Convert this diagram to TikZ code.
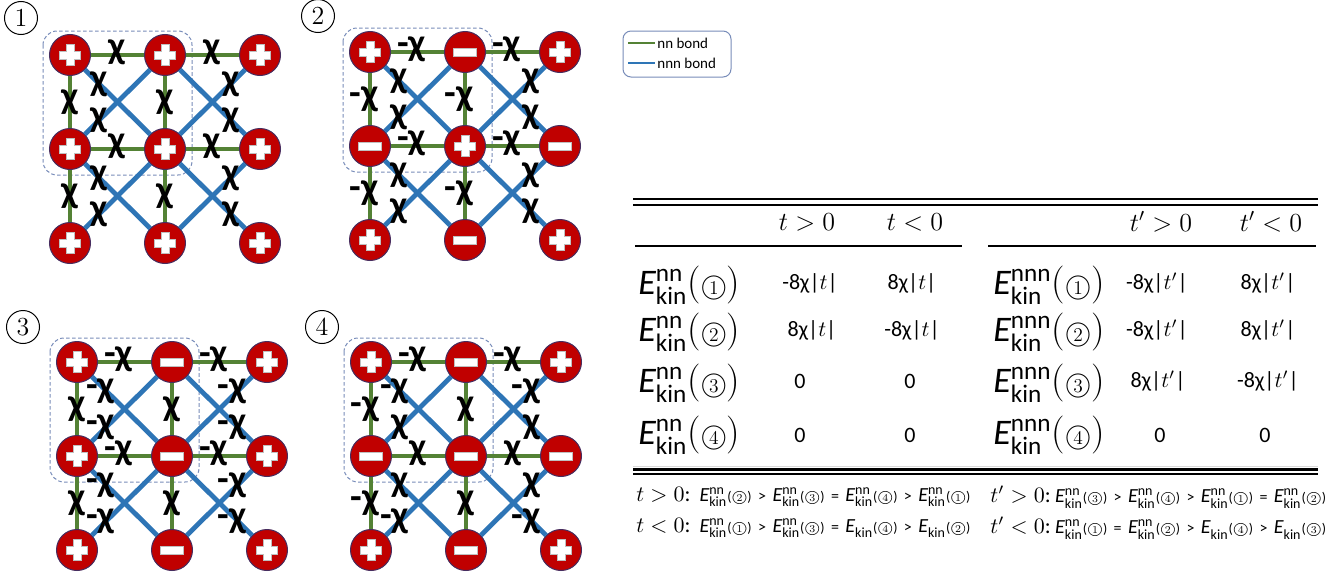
\RequirePackage{fix-cm}
\documentclass[tikz,border=0pt]{standalone}
\usepackage{amsmath}
\usepackage{fontspec}
\newfontfamily\cf{Carlito}
\usetikzlibrary{calc}
\definecolor{nodered}{RGB}{192,0,0}
\definecolor{nodeedge}{RGB}{70,45,95}
\definecolor{shadowc}{RGB}{60,25,60}
\definecolor{nnG}{RGB}{84,130,53}
\definecolor{nnnB}{RGB}{46,117,182}
\definecolor{boxc}{RGB}{120,140,185}
\def\plusshape{(-10.5,-3.8) -- (-3.8,-3.8) -- (-3.8,-10.5) -- (3.8,-10.5) -- (3.8,-3.8) -- (10.5,-3.8) -- (10.5,3.8) -- (3.8,3.8) -- (3.8,10.5) -- (-3.8,10.5) -- (-3.8,3.8) -- (-10.5,3.8) -- cycle}
\def\minusshape{(-11.5,-4) rectangle (11.5,4)}
\newcommand\cnum[1]{{\rmfamily\upshape\ooalign{\hfil$\bigcirc$\hfil\crcr\hfil\scalebox{0.75}{#1}\hfil}}}
\newcommand\chilab[1]{\ifnum#1>0 χ\else\llap{-}χ\fi}
\newcommand\Ebig[2]{{\itshape E}$^{\text{#1}}_{\text{kin}}${\rmfamily\fontsize{19}{19}\selectfont(}{\fontsize{13}{13}\selectfont\cnum{#2}}{\rmfamily\fontsize{19}{19}\selectfont)}}
\newcommand\Es[2]{{\itshape E}$^{\text{#1}}_{\text{kin}}${\fontsize{7}{7}\selectfont(\cnum{#2})}}
\newcommand\rel[1]{\hspace{3.2pt}{\fontsize{8}{8}\selectfont#1}\hspace{3.2pt}}
\newcommand\panel[4]{%
  \def\sarr{#4}%
  \foreach \rr in {0,1,2}{\foreach \cc in {0,1,2}{%
    \pgfmathtruncatemacro\kk{3*\rr+\cc}%
    \pgfmathtruncatemacro\sv{\sarr[\kk]}%
    \ifnum\sv>0 \node[psite] (#1\cc\rr) at ({#2+95*\cc},{#3+94*\rr}) {};%
    \else \node[msite] (#1\cc\rr) at ({#2+95*\cc},{#3+94*\rr}) {};\fi
  }}%
  \draw[dbox] ($(#100)+(-27,-24)$) rectangle ($(#111)+(27,26)$);
  \foreach \rr in {0,1}{\foreach \cc in {0,1}{%
    \pgfmathtruncatemacro\ka{3*\rr+\cc}%
    \pgfmathtruncatemacro\bp{\sarr[\ka]*\sarr[\ka+1]}%
    \pgfmathtruncatemacro\cn{\cc+1}%
    \draw[nn] (#1\cc\rr) -- node[lbl,yshift=1.5pt]{\chilab{\bp}} (#1\cn\rr);
  }}%
  \foreach \cc in {0,1}{\foreach \rr in {0,1}{%
    \pgfmathtruncatemacro\ka{3*\rr+\cc}%
    \pgfmathtruncatemacro\bp{\sarr[\ka]*\sarr[\ka+3]}%
    \pgfmathtruncatemacro\rn{\rr+1}%
    \draw[nn] (#1\cc\rr) -- node[lbl]{\chilab{\bp}} (#1\cc\rn);
  }}%
  \foreach \rr in {0,1}{\foreach \cc in {0,1}{%
    \pgfmathtruncatemacro\ka{3*\rr+\cc}%
    \pgfmathtruncatemacro\bp{\sarr[\ka]*\sarr[\ka+4]}%
    \pgfmathtruncatemacro\bq{\sarr[\ka+1]*\sarr[\ka+3]}%
    \pgfmathtruncatemacro\cn{\cc+1}%
    \pgfmathtruncatemacro\rn{\rr+1}%
    \pgfmathsetmacro\pa{\cc==0 ? 0.22 : 0.78}%
    \pgfmathsetmacro\pb{\cc==0 ? 0.78 : 0.22}%
    \draw[nnn] (#1\cc\rr) -- node[lbl,pos=\pa]{\chilab{\bp}} (#1\cn\rn);
    \draw[nnn] (#1\cn\rr) -- node[lbl,pos=\pb]{\chilab{\bq}} (#1\cc\rn);
  }}%
}
\begin{document}
\begin{tikzpicture}[x=0.5pt,y=-0.5pt,
  site/.style={circle, fill=nodered, draw=nodeedge, line width=0.5pt, minimum size=20.5pt, inner sep=0pt},
  psite/.style={site, path picture={\begin{scope}[shift={(path picture bounding box.center)}]
        \fill[shadowc, shift={(1.6,1.6)}] \plusshape;
        \fill[white, draw=gray!50, line width=0.2pt] \plusshape;
      \end{scope}}},
  msite/.style={site, path picture={\begin{scope}[shift={(path picture bounding box.center)}]
        \fill[shadowc, shift={(1.6,1.6)}] \minusshape;
        \fill[white, draw=gray!50, line width=0.2pt] \minusshape;
      \end{scope}}},
  nn/.style={draw=nnG, line width=2.4pt},
  nnn/.style={draw=nnnB, line width=2.4pt},
  lbl/.style={font=\cf\bfseries\fontsize{19}{19}\selectfont, inner sep=0pt, text=black},
  dbox/.style={draw=boxc, line width=0.5pt, rounded corners=7pt, dash pattern=on 1.8pt off 1.2pt},
  pnum/.style={circle, draw=black, line width=0.5pt, minimum size=16.5pt, inner sep=0pt, font=\fontsize{13}{13}\selectfont},
  hdr/.style={inner sep=0pt, font=\fontsize{13}{13}\selectfont},
  rowlab/.style={anchor=west, inner sep=0pt, font=\cf\fontsize{18}{18}\selectfont},
  val/.style={inner sep=0pt, font=\cf\fontsize{11}{11}\selectfont},
  ineq/.style={anchor=west, inner sep=0pt, font=\cf\fontsize{10}{10}\selectfont},
  legtxt/.style={anchor=west, inner sep=1pt, font=\cf\fontsize{7.5}{7.5}\selectfont},
]
\useasboundingbox (0,0) rectangle (1340,578);
% panels
\panel{A}{70}{55}{{1,1,1,1,1,1,1,1,1}}
\panel{B}{370}{52}{{1,-1,1,-1,1,-1,1,-1,1}}
\panel{C}{77}{362}{{1,-1,1,1,-1,1,1,-1,1}}
\panel{D}{371}{362}{{1,-1,1,-1,-1,-1,1,-1,1}}
\node[pnum] (n1) at (21,18) {1};
\node[pnum] (n2) at (318,16) {2};
\node[pnum] (n3) at (23,327) {3};
\node[pnum] (n4) at (322,327) {4};
% legend
\node[draw=boxc, line width=0.5pt, rounded corners=4pt, minimum width=54pt, minimum height=23pt] (legend) at (677,54) {};
\coordinate (g1) at (628,43);
\coordinate (g2) at (655,43);
\coordinate (b1) at (628,63);
\coordinate (b2) at (655,63);
\draw[draw=nnG, line width=1pt] (g1) -- (g2);
\draw[draw=nnnB, line width=1pt] (b1) -- (b2);
\node[legtxt] (lnn) at (g2) {nn bond};
\node[legtxt] (lnnn) at (b2) {nnn bond};
% table rules
\draw[line width=1.3pt] (633,199) -- (1318,199);
\draw[line width=1pt] (633,204.5) -- (1318,204.5);
\draw[line width=1pt] (635,246) -- (962,246);
\draw[line width=1pt] (988,246) -- (1316,246);
\draw[line width=0.4pt, gray!30] (633,466) -- (1318,466);
\draw[line width=1.3pt] (633,469.5) -- (1318,469.5);
\draw[line width=1pt] (633,474) -- (1318,474);
% header
\node[hdr] (h1) at (807,222) {$t>0$};
\node[hdr] (h2) at (915,222) {$t<0$};
\node[hdr] (h3) at (1161,222) {$t'>0$};
\node[hdr] (h4) at (1271,222) {$t'<0$};
% rows
\node[rowlab] (L1) at (638,285) {\Ebig{nn}{1}};
\node[rowlab] (L2) at (638,332) {\Ebig{nn}{2}};
\node[rowlab] (L3) at (638,383) {\Ebig{nn}{3}};
\node[rowlab] (L4) at (638,435) {\Ebig{nn}{4}};
\node[rowlab] (R1) at (993,285) {\Ebig{nnn}{1}};
\node[rowlab] (R2) at (993,332) {\Ebig{nnn}{2}};
\node[rowlab] (R3) at (993,383) {\Ebig{nnn}{3}};
\node[rowlab] (R4) at (993,435) {\Ebig{nnn}{4}};
\node[val] (v11) at (810,283) {-8χ|$t$|};
\node[val] (v12) at (912,283) {8χ|$t$|};
\node[val] (v13) at (1157,283) {-8χ|$t'$|};
\node[val] (v14) at (1268,283) {8χ|$t'$|};
\node[val] (v21) at (812,330) {8χ|$t$|};
\node[val] (v22) at (912,330) {-8χ|$t$|};
\node[val] (v23) at (1157,330) {-8χ|$t'$|};
\node[val] (v24) at (1268,330) {8χ|$t'$|};
\node[val] (v31) at (800,381) {0};
\node[val] (v32) at (910,381) {0};
\node[val] (v33) at (1158,381) {8χ|$t'$|};
\node[val] (v34) at (1268,381) {-8χ|$t'$|};
\node[val] (v41) at (800,435) {0};
\node[val] (v42) at (910,435) {0};
\node[val] (v43) at (1160,435) {0};
\node[val] (v44) at (1265,435) {0};
% inequalities
\node[ineq] (q1) at (636,497) {{\fontsize{11}{11}\selectfont$t>0$:}\ \ \Es{nn}{2}\rel{>}\Es{nn}{3}\rel{=}\Es{nn}{4}\rel{>}\Es{nn}{1}};
\node[ineq] (q2) at (636,528) {{\fontsize{11}{11}\selectfont$t<0$:}\ \ \Es{nn}{1}\rel{>}\Es{nn}{3}\rel{=}\Es{}{4}\rel{>}\Es{}{2}};
\node[ineq] (q3) at (990,497) {{\fontsize{11}{11}\selectfont$t'>0$:}\ \Es{nn}{3}\rel{>}\Es{nn}{4}\rel{>}\Es{nn}{1}\rel{=}\Es{nn}{2}};
\node[ineq] (q4) at (990,528) {{\fontsize{11}{11}\selectfont$t'<0$:}\ \Es{nn}{1}\rel{=}\Es{nn}{2}\rel{>}\Es{}{4}\rel{>}\Es{}{3}};
\end{tikzpicture}
\end{document}
